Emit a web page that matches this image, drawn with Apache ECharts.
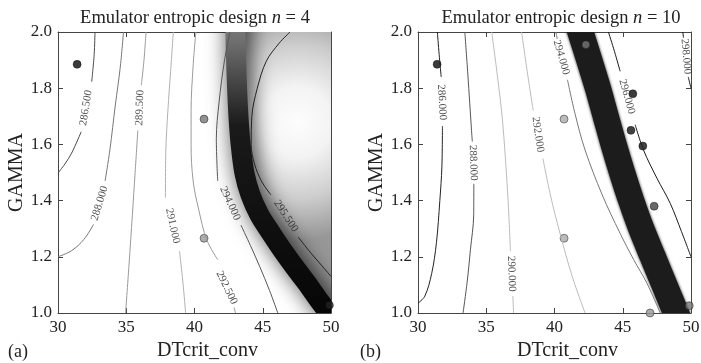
<!DOCTYPE html>
<html>
<head>
<meta charset="utf-8">
<script src="https://cdn.jsdelivr.net/npm/echarts@6/dist/echarts.min.js"></script>
<style>
html, body { margin: 0; padding: 0; background: #fff; }
#chart { width: 701px; height: 363px; }
</style>
</head>
<body>
<div id="chart"></div>
<script>
// axes
const xMin = 30, xMax = 50, xStep = 5
const yMin = 1.0, yMax = 2.0, yStep = 0.2

// panel (a), n = 4 : contour lines [DTcrit_conv, GAMMA], null = gap for the label
const a2865 = [[32.71, 2.0], [32.65, 1.92], [32.47, 1.823], null, [31.7, 1.645], [31.0, 1.569], [30.5, 1.53], [30.0, 1.498]]
const a2880 = [[34.8, 2.0], [34.55, 1.87], [34.2, 1.74], [33.8, 1.58], [33.45, 1.47], null, [32.6, 1.315], [31.9, 1.262], [31.0, 1.222], [30.0, 1.2]]
const a2895 = [[36.45, 2.0], [36.3, 1.9], [36.1, 1.81], null, [35.85, 1.65], [35.65, 1.5], [35.45, 1.35], [35.2, 1.17], [34.95, 1.0]]
const a2910 = [[38.45, 2.0], [38.25, 1.86], [38.05, 1.72], [37.9, 1.58], [37.87, 1.41], null, [38.9, 1.22], [39.15, 1.11], [39.35, 1.0]]
const a2925 = [[40.1, 2.0], [39.9, 1.88], [39.75, 1.72], [39.75, 1.6], [39.9, 1.47], [40.3, 1.37], [40.9, 1.26], [41.7, 1.19], null, [42.9, 1.02], [43.0, 1.0]]
const a2940 = [[42.6, 2.0], [42.2, 1.9], [41.8, 1.75], [41.6, 1.62], [41.7, 1.47], null, [43.4, 1.313], [44.1, 1.24], [44.78, 1.165], [45.5, 1.08], [46.1, 1.0]]
const a2955 = [[47.0, 2.0], [46.2, 1.96], [45.26, 1.896], [44.6, 1.8], [44.2, 1.7], [44.15, 1.6], [44.4, 1.53], [44.9, 1.47], [45.6, 1.42], null, [47.6, 1.27], [48.5, 1.215], [49.3, 1.17], [50.0, 1.13]]
// contour labels [x, y, text]
const labelsA = [[32.05, 1.73, '286.500'], [33.05, 1.39, '288.000'], [36.0, 1.73, '289.500'], [38.4, 1.31, '291.000'],
  [42.35, 1.09, '292.500'], [42.6, 1.39, '294.000'], [46.7, 1.345, '295.500']]
// dark ridge of the entropy surface; the light hollow lies right of it
const ridgeA = [[43.0, 2.1], [43.0, 2.0], [43.05, 1.9], [43.12, 1.8], [43.22, 1.7], [43.38, 1.6], [43.65, 1.5], [44.1, 1.42],
  [44.75, 1.35], [45.6, 1.285], [46.5, 1.22], [47.5, 1.153], [48.4, 1.095], [49.2, 1.04], [50.5, 0.96]]
const hollowCornerA = [[50.5, 2.1]]
const hollowCentreA = [47.5, 1.68]
// design points
const pointsA = [[31.4, 1.885], [40.7, 1.69], [40.7, 1.266], [49.88, 1.028]]

// panel (b), n = 10
const b2860 = [[31.42, 2.0], [31.55, 1.92], [31.7, 1.84], null, [31.79, 1.665], [31.75, 1.52], [31.6, 1.4], [31.35, 1.25], [31.0, 1.14], [30.5, 1.06], [30.0, 1.035]]
const b2880 = [[33.43, 2.0], [33.65, 1.85], [33.92, 1.65], [33.98, 1.61], null, [34.09, 1.46], [34.08, 1.35], [33.84, 1.225], [33.6, 1.11], [33.3, 1.0]]
const b2900 = [[35.4, 2.0], [35.8, 1.85], [36.2, 1.68], [36.6, 1.4], [36.77, 1.22], null, [36.95, 1.06], [37.0, 1.0]]
const b2920 = [[37.59, 2.0], [38.0, 1.86], [38.44, 1.72], null, [39.15, 1.55], [39.7, 1.42], [40.4, 1.284], [41.3, 1.13], [42.24, 1.0]]
const b2940 = [[40.1, 2.0], [40.2, 1.975], null, [40.95, 1.83], [41.5, 1.71], [42.24, 1.58], [43.5, 1.42], [44.8, 1.284], [45.8, 1.19], [46.77, 1.106], [47.75, 1.0]]
const b2960 = [[43.95, 2.0], [44.4, 1.93], [44.81, 1.86], null, [45.91, 1.67], [46.52, 1.58], [47.5, 1.48], [48.48, 1.39], [49.3, 1.29], [50.0, 1.2]]
const b2980 = [[49.4, 2.0], [49.45, 1.98], null, [49.8, 1.84], [50.0, 1.8]]
const labelsB = [[31.75, 1.75, '286.000'], [34.04, 1.535, '288.000'], [36.85, 1.14, '290.000'], [38.78, 1.635, '292.000'],
  [40.5, 1.91, '294.000'], [45.3, 1.77, '296.000'], [49.63, 1.913, '298.000']]
const ridgeB = [[41.25, 2.1], [41.9, 2.0], [42.55, 1.9], [43.18, 1.8], [43.75, 1.7], [44.33, 1.6], [44.95, 1.5], [45.62, 1.4],
  [46.36, 1.3], [47.2, 1.2], [48.05, 1.1], [48.9, 1.0], [49.75, 0.9]]
const pointsB = [[31.4, 1.885], [42.3, 1.955], [40.7, 1.69], [40.7, 1.266], [45.74, 1.78], [45.6, 1.65],
  [46.47, 1.594], [47.3, 1.38], [47.0, 1.0], [49.87, 1.026]]

// styles kept apart from the data
const colorsA = ['#4a4a4a', '#777', '#9a9a9a', '#b0b0b0', '#9a9a9a', '#555', '#222']
const rotA = [81, 73, 88, -78, -64, -66, -57]
const colorsB = ['#222', '#555', '#bbb', '#bbb', '#777', '#1a1a1a', '#1a1a1a']
const rotB = [-87, -88, -88, -82, -74, -74, -85]
const dotA = ['#0a0a0a', '#777', '#999', '#222']
const dotB = ['#0a0a0a', '#777', '#aaa', '#aaa', '#0a0a0a', '#111', '#111', '#444', '#999', '#777']

const serif = 'Liberation Serif'
const chart = echarts.init(document.getElementById('chart'))

function contour(data, color, axis) {
  return {
    type: 'line', data: data, xAxisIndex: axis, yAxisIndex: axis,
    showSymbol: false, symbol: 'none', smooth: 0.35, silent: true,
    lineStyle: { color: color, width: 1 }
  }
}
function labels(data, rot, axis) {
  return {
    type: 'scatter', xAxisIndex: axis, yAxisIndex: axis, symbolSize: 1, silent: true,
    itemStyle: { color: 'rgba(0,0,0,0)' },
    data: data.map((d, i) => ({ value: d, label: { rotate: rot[i] } })),
    label: { show: true, position: 'inside', formatter: p => p.value[2], fontFamily: serif, fontSize: 11, color: '#222' }
  }
}
function points(data, colors, axis) {
  return {
    type: 'scatter', xAxisIndex: axis, yAxisIndex: axis, symbolSize: 8, silent: true,
    data: data.map((d, i) => ({ value: d, itemStyle: { color: colors[i] } })),
    itemStyle: { borderColor: 'rgba(0,0,0,0.65)', borderWidth: 0.8 }
  }
}
// thick ridge drawn as a custom polyline so it is clipped exactly to the plot box
function ridge(data, axis, style) {
  return {
    type: 'custom', xAxisIndex: axis, yAxisIndex: axis, clip: true, silent: true,
    data: [data[0]],
    renderItem: function (params, api) {
      const pts = data.map(p => api.coord(p))
      const st = Object.assign({ fill: null }, typeof style === 'function' ? style(pts) : style)
      return { type: 'polyline', shape: { points: pts, smooth: 0.3 }, style: st }
    }
  }
}

const xBase = {
  type: 'value', min: xMin, max: xMax, interval: xStep,
  axisLine: { lineStyle: { color: '#444' } },
  axisTick: { inside: true, length: 5, lineStyle: { color: '#444' } },
  splitLine: { show: false }
}
const yBase = {
  type: 'value', min: yMin, max: yMax, interval: yStep,
  axisLine: { lineStyle: { color: '#444' } },
  axisTick: { inside: true, length: 5, lineStyle: { color: '#444' } },
  splitLine: { show: false }
}
const xLab = { fontFamily: serif, fontSize: 17, color: '#222', margin: 6 }
const yLab = { fontFamily: serif, fontSize: 17, color: '#222', margin: 6, formatter: v => v.toFixed(1) }
const nameX = { fontFamily: serif, fontSize: 20, color: '#222', padding: [0, 0, 0, 26] }
const nameY = { fontFamily: serif, fontSize: 20, color: '#222' }

const xAxes = [0, 1].map(g => Object.assign({}, xBase, {
  gridIndex: g, position: 'bottom', axisLabel: xLab,
  name: 'DTcrit_conv', nameLocation: 'middle', nameGap: 24, nameTextStyle: nameX
})).concat([0, 1].map(g => Object.assign({}, xBase, { gridIndex: g, position: 'top', axisLabel: { show: false } })))
const yAxes = [0, 1].map(g => Object.assign({}, yBase, {
  gridIndex: g, position: 'left', axisLabel: yLab,
  name: 'GAMMA', nameLocation: 'middle', nameGap: 26, nameTextStyle: nameY
})).concat([0, 1].map(g => Object.assign({}, yBase, { gridIndex: g, position: 'right', axisLabel: { show: false } })))

const titleRich = {
  t: { fontFamily: serif, fontSize: 18.5, fontWeight: 'normal', color: '#222' },
  i: { fontFamily: serif, fontSize: 18.5, fontWeight: 'normal', fontStyle: 'italic', color: '#222' }
}
const plain = { fontFamily: serif, fontSize: 18, fontWeight: 'normal', color: '#222' }

const series = [
  {
    type: 'custom', xAxisIndex: 0, yAxisIndex: 0, clip: true, silent: true,
    data: [hollowCentreA],
    renderItem: function (params, api) {
      const c = api.coord([api.value(0), api.value(1)])
      return {
        type: 'polygon',
        shape: { points: ridgeA.concat(hollowCornerA).map(p => api.coord(p)) },
        style: {
          fill: new echarts.graphic.RadialGradient(c[0], c[1], 118, [
            { offset: 0, color: '#fdfdfd' }, { offset: 0.3, color: '#f3f3f3' },
            { offset: 0.65, color: '#cdcdcd' }, { offset: 1, color: '#979797' }
          ], true)
        }
      }
    }
  },
  ridge(ridgeA, 0, pts => ({
    lineWidth: 20, shadowBlur: 22, shadowColor: 'rgba(0,0,0,0.8)', shadowOffsetX: 3,
    stroke: new echarts.graphic.LinearGradient(0, pts[0][1], 0, pts[pts.length - 1][1], [
      { offset: 0, color: '#8a8a8a' }, { offset: 0.12, color: '#6e6e6e' }, { offset: 0.38, color: '#1a1a1a' }, { offset: 1, color: '#050505' }
    ], true)
  })),
  ridge(ridgeB, 1, { lineWidth: 26, stroke: '#1c1c1c', shadowBlur: 3, shadowColor: '#1c1c1c' })
]
;[a2865, a2880, a2895, a2910, a2925, a2940, a2955].forEach((c, i) => series.push(contour(c, colorsA[i], 0)))
;[b2860, b2880, b2900, b2920, b2940, b2960, b2980].forEach((c, i) => series.push(contour(c, colorsB[i], 1)))
series.push(labels(labelsA, rotA, 0), labels(labelsB, rotB, 1))
series.push(points(pointsA, dotA, 0), points(pointsB, dotB, 1))

chart.setOption({
  animation: false,
  backgroundColor: '#fff',
  title: [
    { text: '{t|Emulator entropic design }{i|n}{t| = 4}', left: 190, top: 4, textAlign: 'center', textStyle: { rich: titleRich } },
    { text: '{t|Emulator entropic design }{i|n}{t| = 10}', left: 556, top: 4, textAlign: 'center', textStyle: { rich: titleRich } },
    { text: '(a)', left: 3, top: 338, textStyle: plain },
    { text: '(b)', left: 355, top: 338, textStyle: plain }
  ],
  grid: [
    { left: 58, top: 32, width: 273, height: 281, outerBoundsMode: 'none' },
    { left: 418, top: 32, width: 273, height: 281, outerBoundsMode: 'none' }
  ],
  xAxis: xAxes,
  yAxis: yAxes,
  series: series
})
</script>
</body>
</html>
